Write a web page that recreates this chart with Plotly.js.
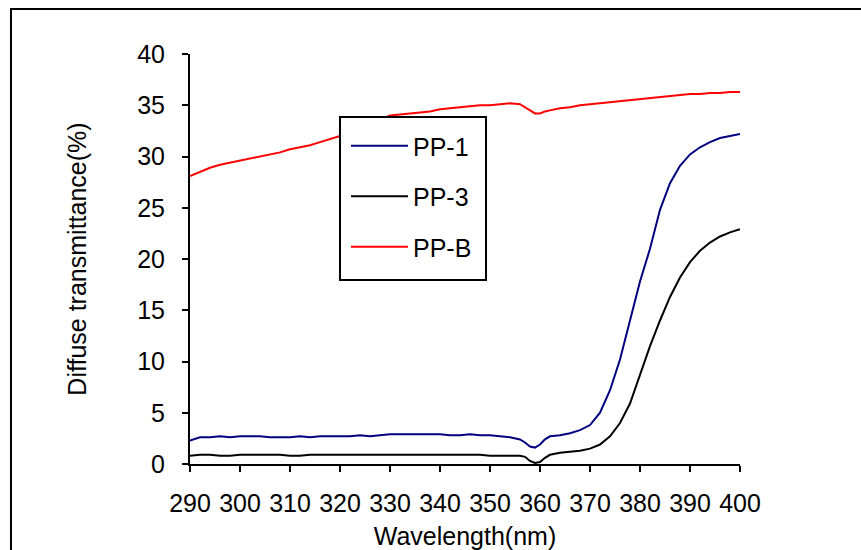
<!DOCTYPE html>
<html>
<head>
<meta charset="utf-8">
<script src="https://cdn.plot.ly/plotly-3.0.1.min.js"></script>
<style>html,body{margin:0;padding:0;background:#fff;}#chart{width:861px;height:550px;}</style>
</head>
<body>
<div id="chart"></div>
<script>
const wavelength = [290,292,294,296,298,300,302,304,306,308,310,312,314,316,318,320,322,324,326,328,330,332,334,336,338,340,342,344,346,348,350,352,354,356,357,358,359,360,361,362,364,366,368,370,372,374,376,378,380,382,384,386,388,390,392,394,396,398,400];
const pp1 = [2.3,2.6,2.6,2.7,2.6,2.7,2.7,2.7,2.6,2.6,2.6,2.7,2.6,2.7,2.7,2.7,2.7,2.8,2.7,2.8,2.9,2.9,2.9,2.9,2.9,2.9,2.8,2.8,2.9,2.8,2.8,2.7,2.6,2.4,2.1,1.7,1.6,1.9,2.4,2.7,2.8,3.0,3.3,3.8,5.0,7.2,10.2,14.0,17.8,21.0,24.8,27.4,29.1,30.2,30.9,31.4,31.8,32.0,32.2];
const pp3 = [0.8,0.9,0.9,0.8,0.8,0.9,0.9,0.9,0.9,0.9,0.8,0.8,0.9,0.9,0.9,0.9,0.9,0.9,0.9,0.9,0.9,0.9,0.9,0.9,0.9,0.9,0.9,0.9,0.9,0.9,0.8,0.8,0.8,0.8,0.7,0.3,0.1,0.2,0.6,0.9,1.1,1.2,1.3,1.5,1.9,2.7,4.0,5.9,8.7,11.5,14.0,16.3,18.2,19.7,20.8,21.6,22.2,22.6,22.9];
const ppB = [28.1,28.5,28.9,29.2,29.4,29.6,29.8,30.0,30.2,30.4,30.7,30.9,31.1,31.4,31.7,32.0,32.4,32.8,33.2,33.6,34.0,34.1,34.2,34.3,34.4,34.6,34.7,34.8,34.9,35.0,35.0,35.1,35.2,35.1,34.8,34.5,34.2,34.2,34.4,34.5,34.7,34.8,35.0,35.1,35.2,35.3,35.4,35.5,35.6,35.7,35.8,35.9,36.0,36.1,36.1,36.2,36.2,36.3,36.3];
const seriesNames = ['PP-1','PP-3','PP-B'];
const xTicks = [290,300,310,320,330,340,350,360,370,380,390,400];
const yTicks = [0,5,10,15,20,25,30,35,40];

const font = {family: 'Arial, "Liberation Sans", sans-serif', size: 25, color: '#000'};
const traces = [
  {x: wavelength, y: pp1, name: seriesNames[0], type: 'scatter', mode: 'lines', line: {color: '#000080', width: 2}, legendgroup: 'a'},
  {x: wavelength, y: pp3, name: seriesNames[1], type: 'scatter', mode: 'lines', line: {color: '#000000', width: 2}, legendgroup: 'b'},
  {x: wavelength, y: ppB, name: seriesNames[2], type: 'scatter', mode: 'lines', line: {color: '#FF0000', width: 2}, legendgroup: 'c'}
];
const layout = {
  width: 861, height: 550,
  margin: {l: 190, r: 121, t: 54, b: 86},
  paper_bgcolor: '#fff', plot_bgcolor: '#fff',
  font: font,
  showlegend: true,
  legend: {x: 0.2836, y: 0.8317, xanchor: 'left', yanchor: 'top', bgcolor: 'rgba(0,0,0,0)', borderwidth: 0, font: font, tracegroupgap: 15, itemwidth: 57},
  xaxis: {range: [290, 400], tickvals: xTicks, ticktext: xTicks.map(String), showgrid: false, zeroline: false, showline: true, linecolor: '#000', linewidth: 2, ticks: 'outside', ticklen: 6, tickwidth: 2, tickcolor: '#000', ticklabelstandoff: 10, tickfont: font, title: {text: 'Wavelength(nm)', font: font, standoff: 18}, automargin: false},
  yaxis: {range: [0, 40], tickvals: yTicks, ticktext: yTicks.map(String), showgrid: false, zeroline: false, showline: true, linecolor: '#000', linewidth: 2, ticks: 'outside', ticklen: 6, tickwidth: 2, tickcolor: '#000', ticklabelstandoff: 12, tickfont: font, title: {text: 'Diffuse transmittance(%)', font: font, standoff: 43}, automargin: false},
  shapes: [
    {type: 'rect', xref: 'paper', yref: 'paper', x0: -0.3255, x1: 1.25, y0: -0.25, y1: 1.1098, line: {color: '#000', width: 2}, fillcolor: 'rgba(0,0,0,0)', layer: 'below'},
    {type: 'rect', xref: 'paper', yref: 'paper', x0: 0.2727, x1: 0.5382, y0: 0.4488, y1: 0.8463, line: {color: '#000', width: 2}, fillcolor: '#fff', layer: 'above'}
  ]
};
Plotly.newPlot('chart', traces, layout, {displayModeBar: false, staticPlot: true});
</script>
</body>
</html>
